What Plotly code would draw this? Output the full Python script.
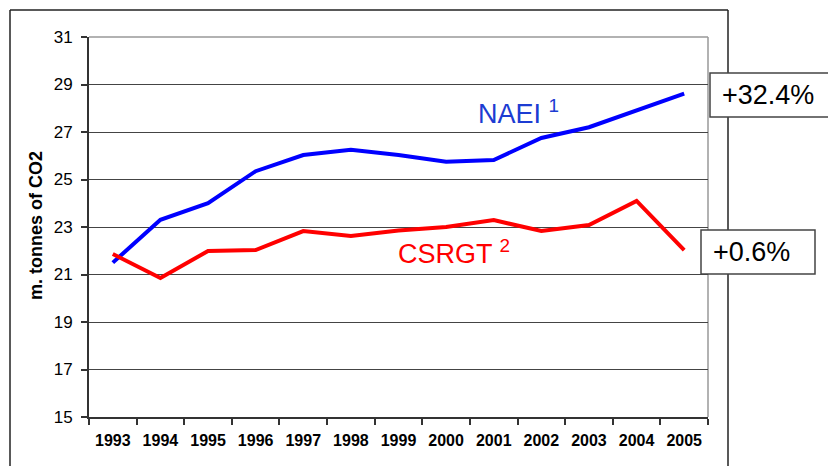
import plotly.graph_objects as go

years = ["1993", "1994", "1995", "1996", "1997", "1998", "1999",
         "2000", "2001", "2002", "2003", "2004", "2005"]
naei = [21.5, 23.3, 24.0, 25.35, 26.03, 26.25, 26.03, 25.75, 25.82, 26.75, 27.2, 27.93, 28.62]
csrgt = [21.86, 20.85, 21.99, 22.03, 22.83, 22.62, 22.85, 23.0, 23.29, 22.83, 23.08, 24.1, 22.03]
y_ticks = [15, 17, 19, 21, 23, 25, 27, 29, 31]

W, H = 828, 466
L, R, T, B = 89, 708, 37, 417
FONT = "Liberation Sans, Arial, sans-serif"


def px(x):
    return (x - L) / (R - L)


def py(y):
    return (B - y) / (B - T)


fig = go.Figure()
fig.add_trace(go.Scatter(x=years, y=naei, mode="lines", name="NAEI",
                         line=dict(color="#0000ff", width=4)))
fig.add_trace(go.Scatter(x=years, y=csrgt, mode="lines", name="CSRGT",
                         line=dict(color="#ff0000", width=4)))

shapes = []
# plot area top/right border (grey)
shapes.append(dict(type="line", xref="paper", yref="paper", x0=0, x1=1, y0=1, y1=1,
                   line=dict(color="#999999", width=1.5), layer="below"))
shapes.append(dict(type="line", xref="paper", yref="paper", x0=1, x1=1, y0=0, y1=1,
                   line=dict(color="#999999", width=1.5), layer="below"))
# outer frame
fl, ft, fr, fb = px(10), py(10), px(728), py(470)
shapes.append(dict(type="line", xref="paper", yref="paper", x0=fl, x1=fl, y0=fb, y1=ft,
                   line=dict(color="#222222", width=1.5)))
shapes.append(dict(type="line", xref="paper", yref="paper", x0=fl, x1=fr, y0=ft, y1=ft,
                   line=dict(color="#222222", width=1.5)))
shapes.append(dict(type="line", xref="paper", yref="paper", x0=fr, x1=fr, y0=fb, y1=ft,
                   line=dict(color="#222222", width=1.5)))
# percentage boxes
shapes.append(dict(type="rect", xref="paper", yref="paper", x0=px(710), x1=px(840),
                   y0=py(117), y1=py(73), fillcolor="white",
                   line=dict(color="#444444", width=1.5)))
shapes.append(dict(type="rect", xref="paper", yref="paper", x0=px(701), x1=px(815),
                   y0=py(274), y1=py(230), fillcolor="white",
                   line=dict(color="#444444", width=1.5)))

annotations = [
    dict(text="+32.4%", xref="paper", yref="paper", x=px(720), y=py(95),
         xanchor="left", yanchor="middle", showarrow=False,
         font=dict(family=FONT, size=27, color="black")),
    dict(text="+0.6%", xref="paper", yref="paper", x=px(711), y=py(252),
         xanchor="left", yanchor="middle", showarrow=False,
         font=dict(family=FONT, size=27, color="black")),
    dict(text="NAEI <sup>1</sup>", xref="paper", yref="paper", x=px(476), y=py(112),
         xanchor="left", yanchor="middle", showarrow=False,
         font=dict(family=FONT, size=27, color="#1c3cd2")),
    dict(text="CSRGT <sup>2</sup>", xref="paper", yref="paper", x=px(396), y=py(252),
         xanchor="left", yanchor="middle", showarrow=False,
         font=dict(family=FONT, size=27, color="#ff0000")),
    dict(text="<b>m. tonnes of CO2</b>", xref="paper", yref="paper", x=px(36), y=py(226),
         xanchor="center", yanchor="middle", showarrow=False, textangle=-90,
         font=dict(family=FONT, size=18, color="black")),
]

fig.update_layout(
    width=W, height=H,
    margin=dict(l=L, r=W - R, t=T, b=H - B, pad=0),
    paper_bgcolor="white", plot_bgcolor="white",
    showlegend=False,
    font=dict(family=FONT, color="black"),
    shapes=shapes,
    annotations=annotations,
    xaxis=dict(type="category", categoryorder="array", categoryarray=years,
               range=[-0.5, len(years) - 0.5],
               showgrid=False, zeroline=False,
               showline=True, linecolor="#333333", linewidth=2,
               ticks="outside", tickson="boundaries", ticklen=6, tickwidth=1.5,
               tickcolor="#333333",
               tickfont=dict(family=FONT, size=16, color="black", weight="bold"),
               ticklabelstandoff=8),
    yaxis=dict(range=[15, 31], tickvals=y_ticks,
               showgrid=True, gridcolor="#444444", gridwidth=1,
               zeroline=False,
               showline=True, linecolor="#333333", linewidth=2,
               ticks="outside", ticklen=6, tickwidth=1.5, tickcolor="#333333",
               tickfont=dict(family=FONT, size=17, color="black"),
               ticklabelstandoff=5),
)

fig.write_html("out.html", config={"displayModeBar": False},
               post_script="document.body.style.margin='0px';")
